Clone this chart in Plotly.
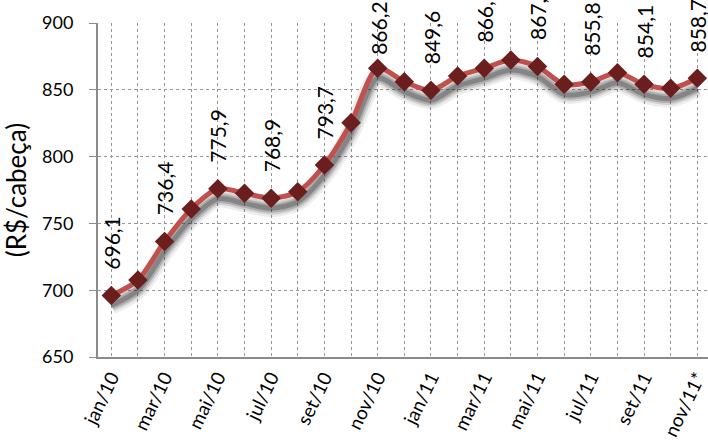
import plotly.graph_objects as go

months = ["jan/10", "fev/10", "mar/10", "abr/10", "mai/10", "jun/10", "jul/10", "ago/10",
          "set/10", "out/10", "nov/10", "dez/10", "jan/11", "fev/11", "mar/11", "abr/11",
          "mai/11", "jun/11", "jul/11", "ago/11", "set/11", "out/11", "nov/11*"]
values = [696.1, 707.6, 736.4, 760.8, 775.9, 772.5, 768.9, 773.7,
          793.7, 825.4, 866.2, 856.1, 849.6, 860.3, 866.1, 872.3,
          867.5, 854.1, 855.8, 862.8, 854.1, 851.1, 858.7]
label_every = 2
y_ticks = [650, 700, 750, 800, 850, 900]

x = list(range(len(months)))
shadow_offset = 7.5
shadow = [v - shadow_offset for v in values]

fig = go.Figure()
# soft shadow
for w, a in [(18, 0.08), (13, 0.13), (9, 0.2), (5, 0.28)]:
    fig.add_trace(go.Scatter(x=x, y=shadow, mode="lines",
                             line=dict(color=f"rgba(30,30,30,{a})", width=w, shape="spline", smoothing=0.8),
                             hoverinfo="skip", showlegend=False))
fig.add_trace(go.Scatter(x=x, y=values, mode="lines+markers",
                         line=dict(color="rgb(192,80,77)", width=5, shape="spline", smoothing=0.8),
                         marker=dict(symbol="diamond", size=15, color="rgb(106,30,30)",
                                     line=dict(width=0)),
                         showlegend=False))

default_shift = 24
special_shift = {10: 11}   # label lowered near the top edge in the original
for i in range(0, len(months), label_every):
    fig.add_annotation(x=x[i], y=values[i], text=f"{values[i]:.1f}".replace(".", ","),
                       textangle=-90, showarrow=False, yanchor="bottom", xanchor="center",
                       yshift=special_shift.get(i, default_shift),
                       font=dict(family="Lato", size=21, color="black"))

tick_idx = list(range(0, len(months), label_every))
fig.update_xaxes(range=[-0.5, 22.4], tickmode="array", tickvals=tick_idx,
                 ticktext=[months[i] for i in tick_idx], tickangle=-64,
                 tickfont=dict(family="Lato", size=19, color="black"),
                 ticklabeloverflow="allow",
                 showgrid=True, gridcolor="rgb(150,150,150)", griddash="dot", gridwidth=1,
                 minor=dict(dtick=1, tick0=0, showgrid=True, gridcolor="rgb(150,150,150)",
                            griddash="dot", gridwidth=1),
                 showline=True, linecolor="rgb(140,140,140)", linewidth=2,
                 ticks="", zeroline=False)
fig.update_yaxes(range=[650, 900], tickvals=y_ticks,
                 tickfont=dict(family="Lato", size=18, color="black"),
                 ticklabelstandoff=12,
                 showgrid=True, gridcolor="rgb(150,150,150)", griddash="dot", gridwidth=1,
                 showline=True, linecolor="rgb(140,140,140)", linewidth=2,
                 ticks="outside", ticklen=7, tickcolor="rgb(140,140,140)",
                 zeroline=False,
                 title=dict(text="(R$/cabeça)", font=dict(family="Lato", size=26, color="black"),
                            standoff=8))
fig.update_layout(width=708, height=446, margin=dict(l=98, r=0, t=23, b=89),
                  plot_bgcolor="white", paper_bgcolor="white")
fig.write_html("out.html", config={"displayModeBar": False},
               post_script="document.body.style.margin='0';")
